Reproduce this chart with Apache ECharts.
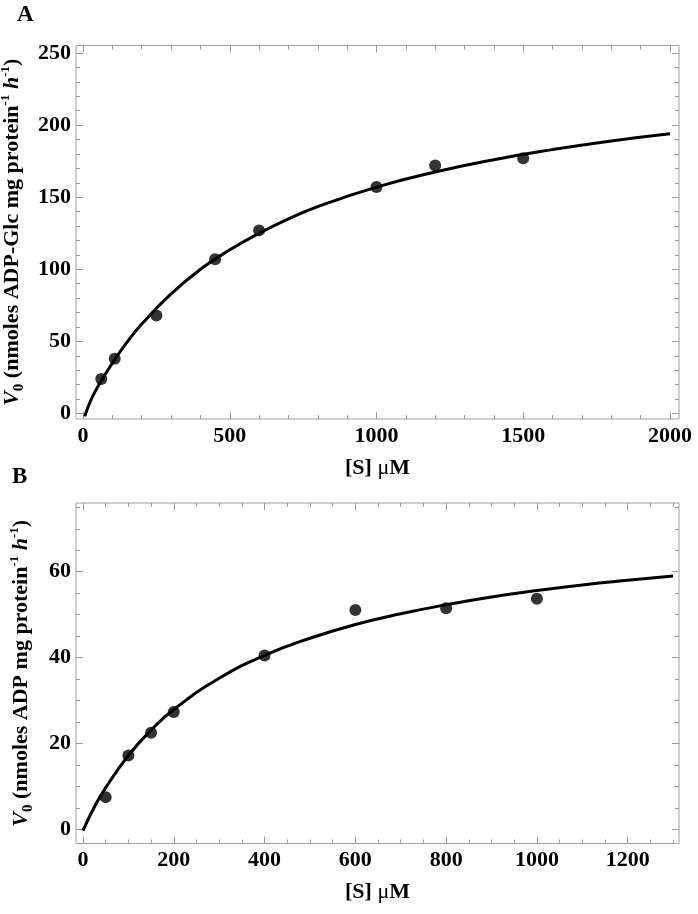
<!DOCTYPE html>
<html><head><meta charset="utf-8">
<script src="https://cdn.jsdelivr.net/npm/echarts@6/dist/echarts.min.js"></script>
<style>html,body{margin:0;padding:0;background:#fff}#c{width:698px;height:914px}</style>
</head><body><div id="c"></div>
<script>
// ---- Panel A data ----
const aPointsS = [62, 108, 250, 450, 600, 1000, 1200, 1500];
const aPointsV = [24, 38, 68, 107, 127, 157, 172, 177];
const aCurveS = [6, 25, 50, 100, 150, 200, 300, 400, 500, 600, 700, 800, 1000, 1200, 1400, 1600, 1800, 2000];
const aCurveV = [-2, 8.5, 18.5, 35, 49.5, 62, 83, 100, 113.5, 125, 135, 143.5, 157, 167.5, 176, 183, 189, 194];
const aXTicks = [0, 500, 1000, 1500, 2000];
const aYTicks = [0, 50, 100, 150, 200, 250];
// ---- Panel B data ----
const bPointsS = [50, 100, 150, 200, 400, 600, 800, 1000];
const bPointsV = [7.5, 17.2, 22.5, 27.3, 40.5, 51.1, 51.5, 53.7];
const bCurveS = [0, 25, 50, 100, 150, 200, 300, 400, 500, 600, 700, 800, 900, 1000, 1100, 1200, 1300];
const bCurveV = [-0.3, 5.2, 9.7, 17.2, 23.1, 27.9, 35.2, 40.5, 44.5, 47.7, 50.2, 52.3, 54.1, 55.6, 56.9, 58.0, 59.0];
const bXTicks = [0, 200, 400, 600, 800, 1000, 1200];
const bYTicks = [0, 20, 40, 60];

const FONT = '"Liberation Serif", "Times New Roman", serif';
const TICK = '#9a9a9a';

function range(a, b, s) { const r = []; for (let v = a; v <= b + 1e-9; v += s) r.push(v); return r; }
const aXMinor = range(0, 2000, 100);
const aYMinor = range(0, 250, 10);
const bXMinor = range(0, 1300, 50);
const bYMinor = range(0, 75, 5);

const labelStyle = { color: '#000', fontFamily: FONT, fontWeight: 'bold', fontSize: 22 };

function axes(dim, grid, min, max, majors, minors, name, nameGap, rich) {
  const near = dim === 'x' ? 'bottom' : 'left';
  const far = dim === 'x' ? 'top' : 'right';
  function ax(pos, vals, len, withLabel) {
    const o = {
      type: 'value', gridIndex: grid, min: min, max: max, position: pos,
      axisLine: { show: false, onZero: false }, splitLine: { show: false }, silent: true,
      axisTick: { show: true, inside: true, length: len, customValues: vals, lineStyle: { color: TICK, width: 1 } },
      axisLabel: { show: false }
    };
    if (withLabel) {
      o.axisLabel = Object.assign({ show: true, customValues: vals, margin: dim === 'x' ? 6 : 5,
        formatter: v => String(Math.round(v)) }, labelStyle);
      o.name = name;
      o.nameLocation = 'middle';
      o.nameGap = nameGap;
      if (dim === 'y') o.nameRotate = 90;
      o.nameTextStyle = Object.assign({}, labelStyle, { rich: rich });
    }
    return o;
  }
  return [ax(near, majors, 7, true), ax(near, minors, 4, false), ax(far, majors, 7, false), ax(far, minors, 4, false)];
}

const yRich = {
  i: { fontFamily: FONT, fontWeight: 'bold', fontStyle: 'italic', fontSize: 22, color: '#000', lineHeight: 26 },
  sub: { fontFamily: FONT, fontWeight: 'bold', fontSize: 15, color: '#000', verticalAlign: 'bottom', lineHeight: 15, padding: [0, 0, -2, 0] },
  sup: { fontFamily: FONT, fontWeight: 'bold', fontSize: 13, color: '#000', verticalAlign: 'top', lineHeight: 13 },
  n: { fontFamily: FONT, fontWeight: 'bold', fontSize: 22, color: '#000', lineHeight: 26 }
};
const xRich = {
  n: { fontFamily: FONT, fontWeight: 'bold', fontSize: 22, color: '#000' },
  mu: { fontFamily: FONT, fontWeight: 'normal', fontSize: 22, color: '#000' }
};
const xName = '{n|[S] }{mu|μ}{n|M}';
const yNameA = '{i|V}{sub|0}{n| (nmoles ADP-Glc mg protein}{sup|-1}{n| }{i|h}{sup|-1}{n|)}';
const yNameB = '{i|V}{sub|0}{n| (nmoles ADP mg protein}{sup|-1}{n| }{i|h}{sup|-1}{n|)}';

const xAxes = [].concat(
  axes('x', 0, -24, 2031, aXTicks, aXMinor, xName, 38, xRich),
  axes('x', 1, -15.4, 1313, bXTicks, bXMinor, xName, 38, xRich)
);
const yAxes = [].concat(
  axes('y', 0, -3.8, 255.2, aYTicks, aYMinor, yNameA, 42, yRich),
  axes('y', 1, -3.3, 76, bYTicks, bYMinor, yNameB, 42, yRich)
);

const zip = (xs, ys) => xs.map((x, i) => [x, ys[i]]);

const option = {
  animation: false,
  backgroundColor: '#fff',
  title: [
    { text: 'A', left: 17, top: 4, padding: 0, textStyle: { fontFamily: FONT, fontWeight: 'bold', fontSize: 23, color: '#000' } },
    { text: 'B', left: 12, top: 466, padding: 0, textStyle: { fontFamily: FONT, fontWeight: 'bold', fontSize: 23, color: '#000' } }
  ],
  grid: [
    { left: 76, right: 19, top: 45.5, bottom: 495, show: true, borderColor: '#a0a0a0', borderWidth: 1, backgroundColor: 'transparent',
      containLabel: false, outerBoundsMode: 'none' },
    { left: 76, right: 19, top: 503, bottom: 70.5, show: true, borderColor: '#a0a0a0', borderWidth: 1, backgroundColor: 'transparent',
      containLabel: false, outerBoundsMode: 'none' }
  ],
  xAxis: xAxes,
  yAxis: yAxes,
  series: [
    { type: 'line', xAxisIndex: 0, yAxisIndex: 0, data: zip(aCurveS, aCurveV), smooth: true, showSymbol: false, symbol: 'none',
      lineStyle: { color: '#000', width: 3 }, clip: true, z: 2 },
    { type: 'scatter', xAxisIndex: 0, yAxisIndex: 0, data: zip(aPointsS, aPointsV), symbol: 'circle', symbolSize: 12,
      itemStyle: { color: '#000' }, z: 3 },
    { type: 'line', xAxisIndex: 4, yAxisIndex: 4, data: zip(bCurveS, bCurveV), smooth: true, showSymbol: false, symbol: 'none',
      lineStyle: { color: '#000', width: 3 }, clip: true, z: 2 },
    { type: 'scatter', xAxisIndex: 4, yAxisIndex: 4, data: zip(bPointsS, bPointsV), symbol: 'circle', symbolSize: 12,
      itemStyle: { color: '#000' }, z: 3 }
  ]
};
const chart = echarts.init(document.getElementById('c'), null, { renderer: 'canvas' });
chart.setOption(option);
</script>
</body></html>
